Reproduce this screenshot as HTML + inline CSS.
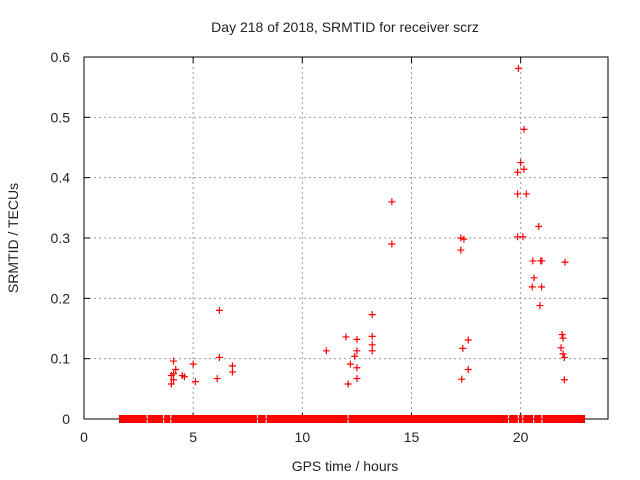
<!DOCTYPE html>
<html><head><meta charset="utf-8"><style>
body{margin:0;background:#fff}
svg{display:block;font-family:"Liberation Sans",sans-serif}
</style></head><body>
<svg id="c" width="640" height="480"></svg>
<script>
const xTicks=[0,5,10,15,20];
const yTicks=[0,0.1,0.2,0.3,0.4,0.5,0.6];
const yTickLabels=["0","0.1","0.2","0.3","0.4","0.5","0.6"];
const pointTimes=[4.1,4.2,4.1,4.0,4.1,4.0,4.5,4.6,5.0,5.1,6.2,6.2,6.1,6.8,6.8,
11.1,12.0,12.5,12.5,12.4,12.2,12.5,12.1,12.5,13.2,13.2,13.2,13.2,14.1,14.1,
19.9,20.15,20.0,20.15,19.86,19.86,20.26,20.83,17.26,17.4,19.86,20.1,17.26,20.56,20.92,20.97,22.03,20.61,20.53,20.96,20.88,21.9,21.94,17.6,17.35,21.85,21.94,22.0,17.6,17.3,22.0];
const pointValues=[0.096,0.082,0.075,0.072,0.065,0.058,0.072,0.070,0.091,0.062,0.102,0.180,0.067,0.088,0.078,
0.113,0.136,0.132,0.113,0.104,0.091,0.085,0.058,0.067,0.173,0.137,0.123,0.113,0.360,0.290,
0.581,0.480,0.425,0.414,0.409,0.373,0.373,0.319,0.300,0.298,0.302,0.302,0.280,0.262,0.262,0.262,0.260,0.234,0.219,0.219,0.188,0.140,0.134,0.131,0.117,0.118,0.108,0.102,0.082,0.066,0.065];
const zeroRunStarts=[1.6,2.92,3.67,4.0,7.97,8.37,12.12,19.47,19.92,20.12,20.62,21.0];
const zeroRunEnds=[2.87,3.62,3.95,7.92,8.32,12.07,19.42,19.87,20.07,20.57,20.95,22.95];
const L=84,R=608,T=57,B=419,xMax=24,yMax=0.6;
const X=v=>L+(R-L)*v/xMax, Y=v=>B-(B-T)*v/yMax;
const s=document.getElementById('c'),NS="http://www.w3.org/2000/svg";
function mk(t,a,txt){const e=document.createElementNS(NS,t);for(const k in a)e.setAttribute(k,a[k]);if(txt!==undefined)e.textContent=txt;s.appendChild(e);return e;}
yTicks.forEach((v,i)=>{const y=Y(v);
 if(i>0&&i<yTicks.length-1){const g=mk('line',{x1:L,x2:R,y1:y,y2:y,stroke:'#999','stroke-dasharray':'2,3'});
 }
 const t=mk('text',{x:70,y:y+5,'text-anchor':'end','font-size':14,fill:'#222'},yTickLabels[i]);
 
 mk('line',{x1:L,x2:L+6,y1:y,y2:y,stroke:'#000'});mk('line',{x1:R,x2:R-6,y1:y,y2:y,stroke:'#000'});
});
xTicks.forEach(v=>{const x=X(v);
 if(v>0){const g=mk('line',{x1:x,x2:x,y1:T,y2:B,stroke:'#999','stroke-dasharray':'2,3'});
 }
 const t=mk('text',{x:x,y:442,'text-anchor':'middle','font-size':14,fill:'#222'},String(v));
 
 mk('line',{x1:x,x2:x,y1:B,y2:B-6,stroke:'#000'});mk('line',{x1:x,x2:x,y1:T,y2:T+6,stroke:'#000'});
});
const f=mk('rect',{x:L,y:T,width:R-L,height:B-T,fill:'none',stroke:'#000','stroke-width':1});

zeroRunStarts.forEach((a,i)=>{const r=mk('rect',{x:X(a),y:B-4,width:X(zeroRunEnds[i])-X(a),height:8,fill:'#f00'});
 });
pointTimes.forEach((t,i)=>{const x=X(t),y=Y(pointValues[i]);
 const p=mk('path',{d:`M${x-3.5},${y}H${x+3.5}M${x},${y-3.5}V${y+3.5}`,stroke:'#f00','stroke-width':1.2,fill:'none'});
 });
const ti=mk('text',{x:345,y:32,'text-anchor':'middle','font-size':14,fill:'#222'},'Day 218 of 2018, SRMTID for receiver scrz');

const xl=mk('text',{x:345,y:471,'text-anchor':'middle','font-size':14,fill:'#222'},'GPS time / hours');

const yl=mk('text',{x:0,y:0,'text-anchor':'middle','font-size':14,fill:'#222',transform:'translate(18,238) rotate(-90)'},'SRMTID / TECUs');

</script>
</body></html>
